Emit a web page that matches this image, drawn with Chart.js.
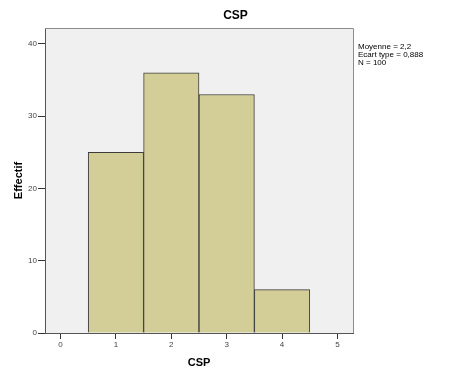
<!DOCTYPE html>
<html>
<head>
<meta charset="utf-8">
<script src="https://cdn.jsdelivr.net/npm/chart.js@4/dist/chart.umd.min.js"></script>
<style>
  html, body { margin: 0; padding: 0; background: #fff; }
  #wrap { width: 471px; height: 378px; }
</style>
</head>
<body>
<div id="wrap"><canvas id="hist"></canvas></div>
<script>
// CSP histogram (SPSS style)
const classes = [1, 2, 3, 4];
const counts = [25, 36, 33, 6];
const xTicks = [0, 1, 2, 3, 4, 5];
const yTicks = [0, 10, 20, 30, 40];
const statLines = ['Moyenne = 2,2', 'Ecart type = 0,888', 'N = 100'];

const histData = classes.map((c, i) => ({ x: c, y: counts[i] }));

// plot background, frame, title and stats box
const spssDeco = {
  id: 'spssDeco',
  beforeDraw(chart) {
    const { ctx, chartArea: a } = chart;
    ctx.save();
    ctx.fillStyle = '#f0f0f0';
    ctx.fillRect(a.left, a.top, a.right - a.left, a.bottom - a.top);
    ctx.restore();
  },
  afterDraw(chart) {
    const { ctx, chartArea: a } = chart;
    ctx.save();
    ctx.strokeStyle = '#8c8c8c';
    ctx.lineWidth = 1;
    ctx.beginPath();
    ctx.moveTo(a.left, a.top + 0.5);
    ctx.lineTo(a.right + 0.5, a.top + 0.5);
    ctx.lineTo(a.right + 0.5, a.bottom);
    ctx.stroke();

    ctx.fillStyle = '#000';
    ctx.font = 'bold 12px Arial, "Liberation Sans", sans-serif';
    ctx.textAlign = 'center';
    ctx.textBaseline = 'middle';
    ctx.fillText('CSP', chart.width / 2, 16);

    ctx.font = '8px Arial, "Liberation Sans", sans-serif';
    ctx.textAlign = 'left';
    statLines.forEach((t, i) => ctx.fillText(t, a.right + 5, 47 + i * 8));
    ctx.restore();
  }
};

new Chart(document.getElementById('hist'), {
  type: 'bar',
  data: {
    datasets: [{
      label: 'Effectif',
      data: histData,
      backgroundColor: '#d3ce98',
      borderColor: '#3c3c3c',
      borderWidth: 1,
      barPercentage: 1,
      categoryPercentage: 1
    }]
  },
  options: {
    responsive: true,
    maintainAspectRatio: false,
    animation: false,
    layout: { padding: { top: 28, right: 118, left: 0, bottom: 8 } },
    plugins: {
      legend: { display: false },
      tooltip: { enabled: false }
    },
    scales: {
      x: {
        type: 'linear',
        min: -0.28,
        max: 5.28,
        offset: false,
        afterBuildTicks: s => { s.ticks = xTicks.map(v => ({ value: v })); },
        afterFit: s => { s.height = 37; },
        grid: {
          offset: false,
          drawOnChartArea: false,
          tickLength: 6,
          color: '#333',
          tickColor: '#333'
        },
        border: { color: '#555', width: 1 },
        ticks: {
          color: '#444',
          font: { size: 8, family: 'Arial, "Liberation Sans", sans-serif' },
          padding: 1
        },
        title: {
          display: true,
          text: 'CSP',
          color: '#000',
          font: { size: 11, weight: 'bold', family: 'Arial, "Liberation Sans", sans-serif' },
          padding: { top: 6, bottom: 0 }
        }
      },
      y: {
        min: 0,
        max: 42.2,
        afterBuildTicks: s => { s.ticks = yTicks.map(v => ({ value: v })); },
        afterFit: s => { s.width = 45; },
        grid: {
          drawOnChartArea: false,
          tickLength: 7,
          color: '#333',
          tickColor: '#333'
        },
        border: { color: '#555', width: 1 },
        ticks: {
          color: '#444',
          font: { size: 8, family: 'Arial, "Liberation Sans", sans-serif' },
          padding: 1
        },
        title: {
          display: true,
          text: 'Effectif',
          color: '#000',
          font: { size: 11, weight: 'bold', family: 'Arial, "Liberation Sans", sans-serif' },
          padding: { top: 12, bottom: 0 }
        }
      }
    }
  },
  plugins: [spssDeco]
});
</script>
</body>
</html>
